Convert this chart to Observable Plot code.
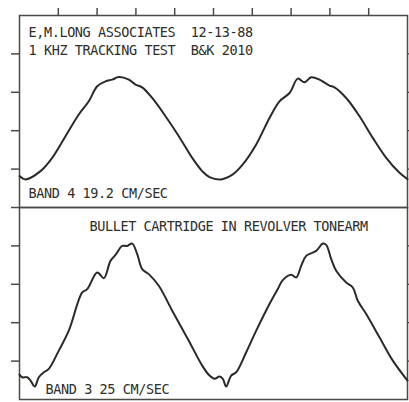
<!DOCTYPE html>
<html><head><meta charset="utf-8">
<script src="https://cdn.jsdelivr.net/npm/d3@7"></script>
<script src="https://cdn.jsdelivr.net/npm/@observablehq/plot@0.6"></script>
<style>
html,body{margin:0;padding:0;background:#fff;}
svg text{white-space:pre;}
</style></head><body><div id="chart"></div>
<script>
const panels = ["top", "bottom"];
const xTicks = [1, 2, 3, 4, 5, 6, 7, 8, 9];
const yTicks = [1, 2, 3, 4];

// Top trace (Band 4, 19.2 cm/sec) — x in horizontal divisions, y in vertical divisions
const topX = [0, 0.155, 0.541, 0.843, 1.186, 1.528, 1.786, 2.003, 2.216, 2.389, 2.559, 2.817, 2.990, 3.162, 3.420, 3.763, 4.106, 4.451, 4.709, 4.897, 5.198, 5.497, 5.755, 6.101, 6.443, 6.701, 6.959, 7.173, 7.345, 7.518, 7.732, 7.990, 8.119, 8.420, 8.763, 9.106, 9.451, 9.794, 10];
const topY = [0.818, 0.732, 0.948, 1.294, 1.857, 2.421, 2.766, 3.156, 3.286, 3.330, 3.397, 3.330, 3.200, 3.130, 2.852, 2.377, 1.857, 1.294, 0.948, 0.790, 0.732, 0.862, 1.122, 1.642, 2.332, 2.766, 2.982, 3.356, 3.260, 3.390, 3.330, 3.174, 3.130, 2.852, 2.377, 1.813, 1.294, 0.904, 0.740];

// Bottom trace (Band 3, 25 cm/sec)
const bottomX = [0, 0.070, 0.198, 0.284, 0.394, 0.497, 0.626, 0.755, 1.013, 1.271, 1.616, 1.745, 2.003, 2.173, 2.345, 2.474, 2.647, 2.776, 2.905, 3.034, 3.162, 3.332, 3.590, 3.936, 4.363, 4.709, 4.897, 5.026, 5.155, 5.240, 5.327, 5.456, 5.585, 5.843, 6.101, 6.443, 6.657, 6.786, 7.003, 7.131, 7.260, 7.389, 7.647, 7.817, 7.905, 8.034, 8.162, 8.420, 8.590, 8.719, 8.936, 9.278, 9.621, 10];
const bottomY = [0.649, 0.579, 0.579, 0.494, 0.338, 0.579, 0.709, 0.797, 1.273, 1.792, 2.787, 2.875, 3.306, 3.161, 3.610, 3.766, 4.000, 4.000, 4.060, 3.784, 3.395, 3.265, 2.961, 2.312, 1.532, 0.883, 0.623, 0.538, 0.597, 0.538, 0.338, 0.623, 0.709, 1.229, 1.792, 2.486, 2.875, 3.109, 3.247, 3.177, 3.481, 3.740, 3.870, 4.060, 4.026, 3.655, 3.351, 3.047, 2.917, 2.571, 2.226, 1.618, 1.013, 0.494];

const headerText = "E,M.LONG ASSOCIATES  12-13-88\n1 KHZ TRACKING TEST  B&K 2010";
const topBandLabel = "BAND 4 19.2 CM/SEC";
const subtitle = "BULLET CARTRIDGE IN REVOLVER TONEARM";
const bottomBandLabel = "BAND 3 25 CM/SEC";

const traces = [
  ...topX.map((x, i) => ({panel: "top", x, y: topY[i]})),
  ...bottomX.map((x, i) => ({panel: "bottom", x, y: bottomY[i]}))
];

const ink = "#2a2a26";
const frameInk = "#4a4a46";
const textStyle = {fill: "#2e2e2a", fontSize: 13.5, textAnchor: "start", lineAnchor: "bottom"};

const chart = Plot.plot({
  width: 409, height: 402,
  marginTop: 14, marginBottom: 3, marginLeft: 19, marginRight: 2,
  style: {background: "#fff", fontFamily: "'DejaVu Sans Mono', monospace", letterSpacing: "-0.4px"},
  x: {domain: [0, 10]},
  y: {domain: [0, 5]},
  fy: {domain: panels, axis: null, padding: 0},
  marks: [
    Plot.frame({stroke: frameInk, strokeWidth: 1.5}),
    Plot.axisX({anchor: "top", ticks: xTicks, tickSize: 8, tickFormat: () => "", stroke: frameInk, strokeWidth: 1.5, label: null}),
    Plot.axisY({anchor: "left", ticks: yTicks, tickSize: 8, tickFormat: () => "", stroke: frameInk, strokeWidth: 1.5, label: null}),
    Plot.axisY({anchor: "left", ticks: [0], facetAnchor: "top", tickSize: 8, tickFormat: () => "", stroke: frameInk, strokeWidth: 1.5, label: null}),
    Plot.axisY({anchor: "right", ticks: yTicks, tickSize: 2, tickFormat: () => "", stroke: frameInk, strokeWidth: 1.2, label: null}),
    Plot.line(traces, {x: "x", y: "y", fy: "panel", curve: "catmull-rom", stroke: ink, strokeWidth: 2}),
    Plot.text([headerText], {text: d => d, fy: () => "top", frameAnchor: "top-left", dx: 9, dy: 21 + 18, lineHeight: 18 / 13.5, ...textStyle}),
    Plot.text([topBandLabel], {text: d => d, fy: () => "top", frameAnchor: "bottom-left", dx: 9, dy: -9.5, ...textStyle}),
    Plot.text([subtitle], {text: d => d, fy: () => "bottom", frameAnchor: "top-left", dx: 70, dy: 23.5, ...textStyle}),
    Plot.text([bottomBandLabel], {text: d => d, fy: () => "bottom", frameAnchor: "bottom-left", dx: 26, dy: -6, ...textStyle})
  ]
});
document.getElementById("chart").appendChild(chart);
</script>
</body></html>
